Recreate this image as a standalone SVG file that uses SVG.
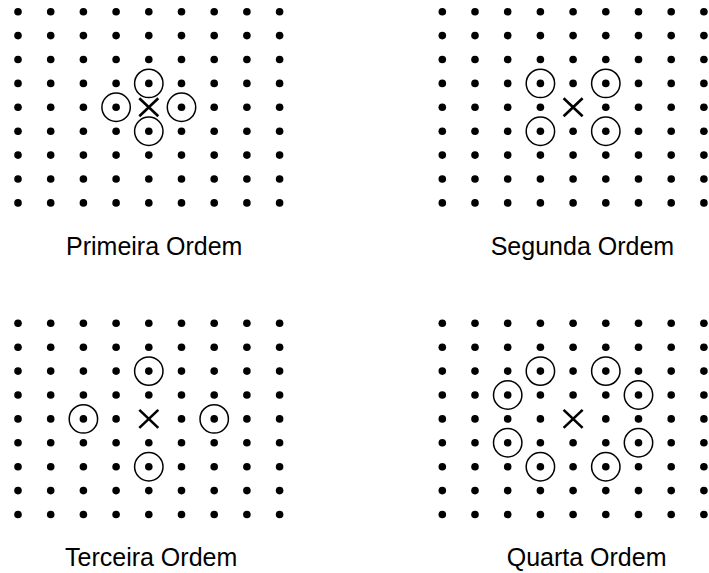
<svg xmlns="http://www.w3.org/2000/svg" xmlns:xlink="http://www.w3.org/1999/xlink" width="709" height="573" viewBox="0 0 709 573">
<style>
.dot{fill:#000}
.ring{fill:none;stroke:#000;stroke-width:1.5}
.cross{stroke:#000;stroke-width:2.6;stroke-linecap:butt}
.lbl{font-family:"Liberation Sans",Arial,sans-serif;font-size:25px;fill:#000}
</style>
<defs>
<g id="half">
<circle class="dot" cx="0" cy="0" r="3.8"/>
<circle class="dot" cx="32.7" cy="0" r="3.8"/>
<circle class="dot" cx="65.4" cy="0" r="3.8"/>
<circle class="dot" cx="98.1" cy="0" r="3.8"/>
</g>
<g id="rowc">
<use xlink:href="#half" href="#half"/>
<use xlink:href="#half" href="#half" x="163.5"/>
</g>
<g id="row">
<use xlink:href="#rowc" href="#rowc"/>
<circle class="dot" cx="130.8" cy="0" r="3.8"/>
</g>
<g id="grid">
<use xlink:href="#row" href="#row" y="0"/>
<use xlink:href="#row" href="#row" y="23.9"/>
<use xlink:href="#row" href="#row" y="47.8"/>
<use xlink:href="#row" href="#row" y="71.7"/>
<use xlink:href="#rowc" href="#rowc" y="95.6"/>
<use xlink:href="#row" href="#row" y="119.5"/>
<use xlink:href="#row" href="#row" y="143.4"/>
<use xlink:href="#row" href="#row" y="167.3"/>
<use xlink:href="#row" href="#row" y="191.2"/>
</g>
<g id="x">
<line class="cross" x1="121.3" y1="86.6" x2="140.3" y2="104.6"/>
<line class="cross" x1="140.3" y1="86.6" x2="121.3" y2="104.6"/>
</g>
</defs>

<g id="primeira" transform="translate(18,11.7)">
<use xlink:href="#grid" href="#grid"/>
<use xlink:href="#x" href="#x"/>
<circle class="ring" cx="130.8" cy="71.7" r="14.2"/>
<circle class="ring" cx="98.1" cy="95.6" r="14.2"/>
<circle class="ring" cx="163.5" cy="95.6" r="14.2"/>
<circle class="ring" cx="130.8" cy="119.5" r="14.2"/>
</g>

<g id="segunda" transform="translate(442.3,11.7)">
<use xlink:href="#grid" href="#grid"/>
<use xlink:href="#x" href="#x"/>
<circle class="ring" cx="98.1" cy="71.7" r="14.2"/>
<circle class="ring" cx="163.5" cy="71.7" r="14.2"/>
<circle class="ring" cx="98.1" cy="119.5" r="14.2"/>
<circle class="ring" cx="163.5" cy="119.5" r="14.2"/>
</g>

<g id="terceira" transform="translate(18,323.3)">
<use xlink:href="#grid" href="#grid"/>
<use xlink:href="#x" href="#x"/>
<circle class="ring" cx="130.8" cy="47.8" r="14.2"/>
<circle class="ring" cx="65.4" cy="95.6" r="14.2"/>
<circle class="ring" cx="196.2" cy="95.6" r="14.2"/>
<circle class="ring" cx="130.8" cy="143.4" r="14.2"/>
</g>

<g id="quarta" transform="translate(442.3,323.3)">
<use xlink:href="#grid" href="#grid"/>
<use xlink:href="#x" href="#x"/>
<circle class="ring" cx="98.1" cy="47.8" r="14.2"/>
<circle class="ring" cx="163.5" cy="47.8" r="14.2"/>
<circle class="ring" cx="65.4" cy="71.7" r="14.2"/>
<circle class="ring" cx="196.2" cy="71.7" r="14.2"/>
<circle class="ring" cx="65.4" cy="119.5" r="14.2"/>
<circle class="ring" cx="196.2" cy="119.5" r="14.2"/>
<circle class="ring" cx="98.1" cy="143.4" r="14.2"/>
<circle class="ring" cx="163.5" cy="143.4" r="14.2"/>
</g>

<g id="labels">
<text class="lbl" x="66" y="255">Primeira Ordem</text>
<text class="lbl" x="490.7" y="255">Segunda Ordem</text>
<text class="lbl" x="65" y="566">Terceira Ordem</text>
<text class="lbl" x="506.7" y="566">Quarta Ordem</text>
</g>
</svg>
